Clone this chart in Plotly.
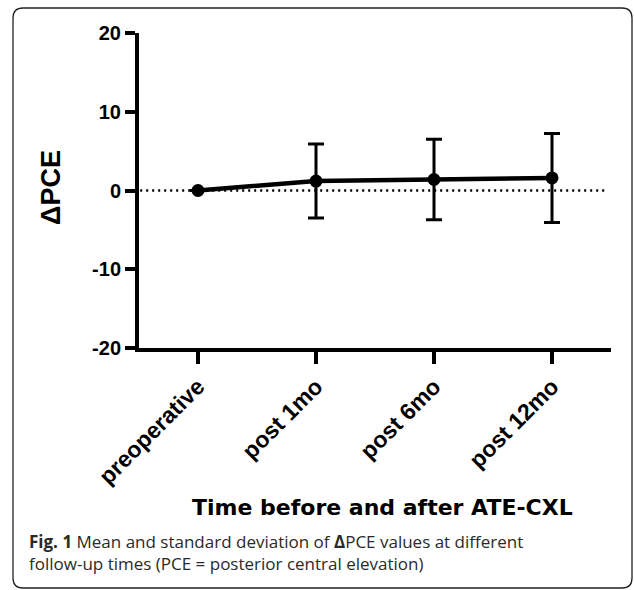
import plotly.graph_objects as go

categories = ["preoperative", "post 1mo", "post 6mo", "post 12mo"]
mean_dpce = [0.0, 1.2, 1.4, 1.6]
sd_dpce = [0.0, 4.7, 5.1, 5.65]
y_ticks = [-20, -10, 0, 10, 20]

W, H = 634, 590
L, R, T, B = 139, 23, 33, 242
pw, ph = W - L - R, H - T - B

def px_x(p):
    return (p - L) / pw

def px_y(p):
    return (H - B - p) / ph

fig = go.Figure()
fig.add_trace(go.Scatter(
    x=list(range(len(categories))), y=mean_dpce,
    mode="lines+markers",
    line=dict(color="black", width=4.5),
    marker=dict(color="black", size=13),
    error_y=dict(type="data", array=sd_dpce, visible=True,
                 color="black", thickness=3, width=8),
    showlegend=False, cliponaxis=False,
))

# dotted zero line
fig.add_shape(type="line", xref="x", yref="y", x0=-0.49, x1=3.46, y0=0, y1=0,
              line=dict(color="black", width=2.5, dash="2px,4px"), layer="below")

# rounded border
x0, x1 = px_x(13), px_x(632)
y0, y1 = px_y(588), px_y(8)
rx, ry = 10 / pw, 10 / ph
path = (f"M {x0+rx},{y1} L {x1-rx},{y1} Q {x1},{y1} {x1},{y1-ry} "
        f"L {x1},{y0+ry} Q {x1},{y0} {x1-rx},{y0} L {x0+rx},{y0} "
        f"Q {x0},{y0} {x0},{y0+ry} L {x0},{y1-ry} Q {x0},{y1} {x0+rx},{y1} Z")
fig.add_shape(type="path", xref="paper", yref="paper", path=path,
              line=dict(color="#222", width=1.3))

arial = "Liberation Sans, Arial, sans-serif"
wide = "DejaVu Sans, sans-serif"
cap_font = dict(family="Open Sans, sans-serif", size=17, color="#2a2a2a")

fig.add_annotation(xref="paper", yref="paper", x=px_x(51), y=px_y(188),
                   text="<b>ΔPCE</b>", textangle=-90, showarrow=False,
                   font=dict(family=arial, size=27, color="black"),
                   xanchor="center", yanchor="middle")

fig.add_annotation(xref="paper", yref="paper", x=px_x(382), y=px_y(507),
                   text="<b>Time before and after ATE-CXL</b>", showarrow=False,
                   font=dict(family=wide, size=22, color="black"),
                   xanchor="center", yanchor="middle")

fig.add_annotation(xref="paper", yref="paper", x=px_x(27), y=px_y(541),
                   text="<b>Fig. 1</b> Mean and standard deviation of <b>Δ</b>PCE values at different",
                   showarrow=False, align="left", font=cap_font,
                   xanchor="left", yanchor="middle")
fig.add_annotation(xref="paper", yref="paper", x=px_x(27), y=px_y(563),
                   text="follow-up times (PCE = posterior central elevation)",
                   showarrow=False, align="left", font=cap_font,
                   xanchor="left", yanchor="middle")

fig.update_layout(
    width=W, height=H,
    margin=dict(l=L, r=R, t=T, b=B, pad=0),
    paper_bgcolor="white", plot_bgcolor="white",
    xaxis=dict(
        range=[-0.5, 3.5], tickmode="array",
        tickvals=list(range(len(categories))), ticktext=[f"<b>{c}</b>" for c in categories],
        tickangle=-45, ticks="outside", ticklen=12, tickwidth=4, tickcolor="black",
        showline=True, linewidth=4, linecolor="black", showgrid=False, zeroline=False,
        tickfont=dict(family=arial, size=23, color="black"),
    ),
    yaxis=dict(
        range=[-20, 20], tickmode="array", tickvals=y_ticks,
        ticktext=[f"<b>{v}</b>" for v in y_ticks],
        ticks="outside", ticklen=10, tickwidth=4, tickcolor="black",
        showline=True, linewidth=4, linecolor="black", showgrid=False, zeroline=False,
        tickfont=dict(family=arial, size=20, color="black"),
    ),
)

fig.write_html("out.html", config={"displayModeBar": False},
               post_script="document.body.style.margin='0';")
